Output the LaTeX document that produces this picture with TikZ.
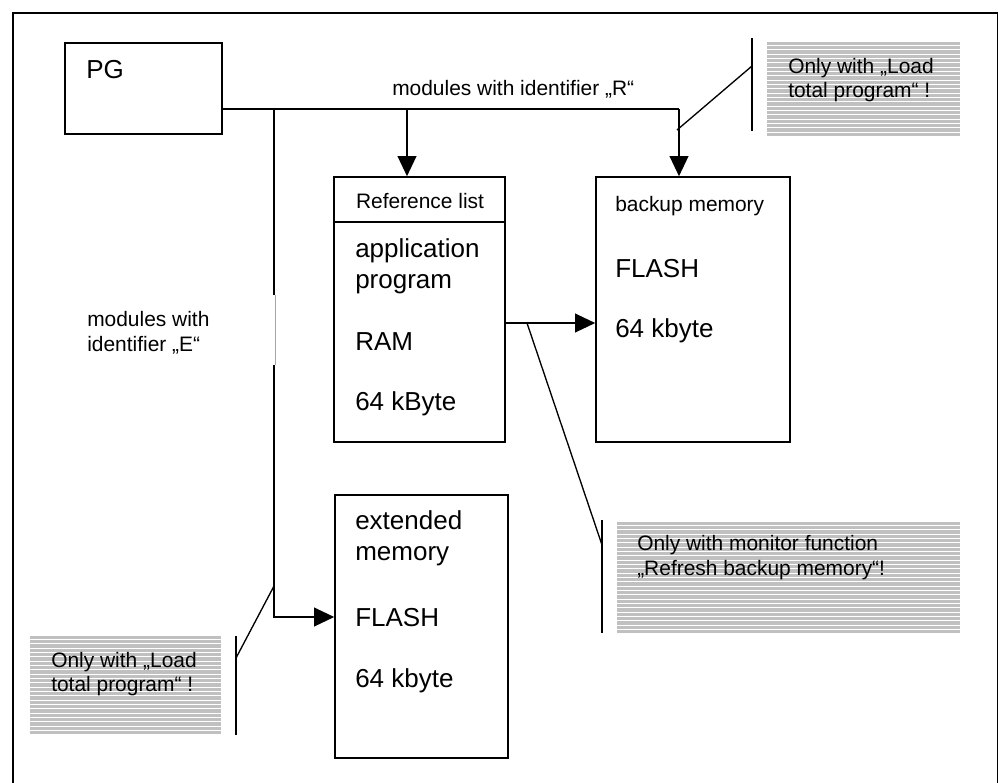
\documentclass[tikz,border=0pt]{standalone}
\usepackage{fontspec}
\setmainfont{Liberation Sans}
\usetikzlibrary{arrows.meta,fit}
\definecolor{stripegray}{HTML}{C0C0C0}
\begin{document}
\begin{tikzpicture}[x=0.75pt,y=-0.75pt,
  box/.style={draw, line width=1.2pt, inner sep=0pt},
  big/.style={font=\fontsize{19.5}{23}\selectfont, inner sep=0pt, anchor=base west},
  small/.style={font=\fontsize{15.7}{19}\selectfont, inner sep=0pt, anchor=base west},
  conn/.style={line width=1.2pt},
  arr/.style={conn, -{Triangle[length=15pt,width=14pt]}},
  bar/.style={line width=1.2pt},
  ptr/.style={line width=1pt},
  shadebox/.style={inner sep=0pt, fill=stripegray,
    path picture={\foreach \i in {0,...,45}
      \draw[white, line width=0.7pt]
        ([yshift=-\i*3.25pt-2.6pt]path picture bounding box.north west) --
        ([yshift=-\i*3.25pt-2.6pt]path picture bounding box.north east);}},
]
\useasboundingbox (0,0) rectangle (998,782);
% outer frame
\draw[line width=1.2pt] (13,800) -- (13,13) -- (997.5,13) -- (997.5,800);

% boxes
\node[box, fit={(65,43)(222,134)}] (pg) {};
\node[box, fit={(334,177)(505,442)}] (ref) {};
\node[box, fit={(334,177)(505,222)}] (refhead) {};
\node[box, fit={(596,177)(790,442)}] (backup) {};
\node[box, fit={(335,495)(508,758)}] (ext) {};

% junctions
\coordinate (j1) at (274,109);
\coordinate (j2) at (407,109);
\coordinate (j3) at (679,109);
\coordinate (elbow) at (274,617);
\coordinate (ramy) at (0,323);

% connectors
\draw[conn] (pg.east |- j1) -- (j3);
\draw[arr] (j3) -- (j3 |- backup.north);
\draw[arr] (j2) -- (j2 |- ref.north);
\draw[arr] (j1) -- (elbow) -- (elbow -| ext.west);
\draw[arr] (ref.east |- ramy) -- (backup.west |- ramy);

% label E box (covers the line)
\fill[white] (75,295) rectangle (275,365);
\draw[gray!70, line width=0.4pt] (275.5,295) -- (275.5,365);

% callouts
\node[shadebox, fit={(767,42)(960,137)}] (c1) {};
\node[shadebox, fit={(617,522)(960,633)}] (c2) {};
\node[shadebox, fit={(30,636)(221,734)}] (c3) {};

\coordinate (b1t) at (752,38);
\coordinate (b1b) at (752,131);
\coordinate (b1p) at (752,66);
\draw[bar] (b1t) -- (b1b);
\draw[ptr] (b1p) -- (677,130);

\coordinate (b2t) at (602,520);
\coordinate (b2b) at (602,633);
\coordinate (b2p) at (602,545);
\draw[bar] (b2t) -- (b2b);
\draw[ptr] (b2p) -- (527,323);

\coordinate (b3t) at (236,636);
\coordinate (b3b) at (236,735);
\coordinate (b3p) at (236,658);
\draw[bar] (b3t) -- (b3b);
\draw[ptr] (b3p) -- (274,586);

% texts
\node[big] (tpg) at (86,78) {PG};
\node[small, anchor=base] (tref) at (420,208) {Reference list};
\node[big] (tapp1) at (355,257) {application};
\node[big] (tapp2) at (355,288) {program};
\node[big] (tram) at (355,350) {RAM};
\node[big] (tramsize) at (355,410) {64 kByte};

\node[small] (tbk1) at (615,211) {backup memory};
\node[big] (tbk2) at (615,277) {FLASH};
\node[big] (tbk3) at (615,337) {64 kbyte};

\node[big] (tex1) at (355,529) {extended};
\node[big] (tex2) at (355,560) {memory};
\node[big] (tex3) at (355,626) {FLASH};
\node[big] (tex4) at (355,687) {64 kbyte};

\node[small] (tR) at (392,95) {modules with identifier „R“};
\node[small] (tE1) at (87,326) {modules with};
\node[small] (tE2) at (87,351) {identifier „E“};

\node[small] (tc1a) at (788,73) {Only with „Load};
\node[small] (tc1b) at (788,97) {total program“ !};
\node[small] (tc2a) at (637,550) {Only with monitor function};
\node[small] (tc2b) at (637,575) {„Refresh backup memory“!};
\node[small] (tc3a) at (51,667) {Only with „Load};
\node[small] (tc3b) at (51,691) {total program“ !};
\end{tikzpicture}
\end{document}
